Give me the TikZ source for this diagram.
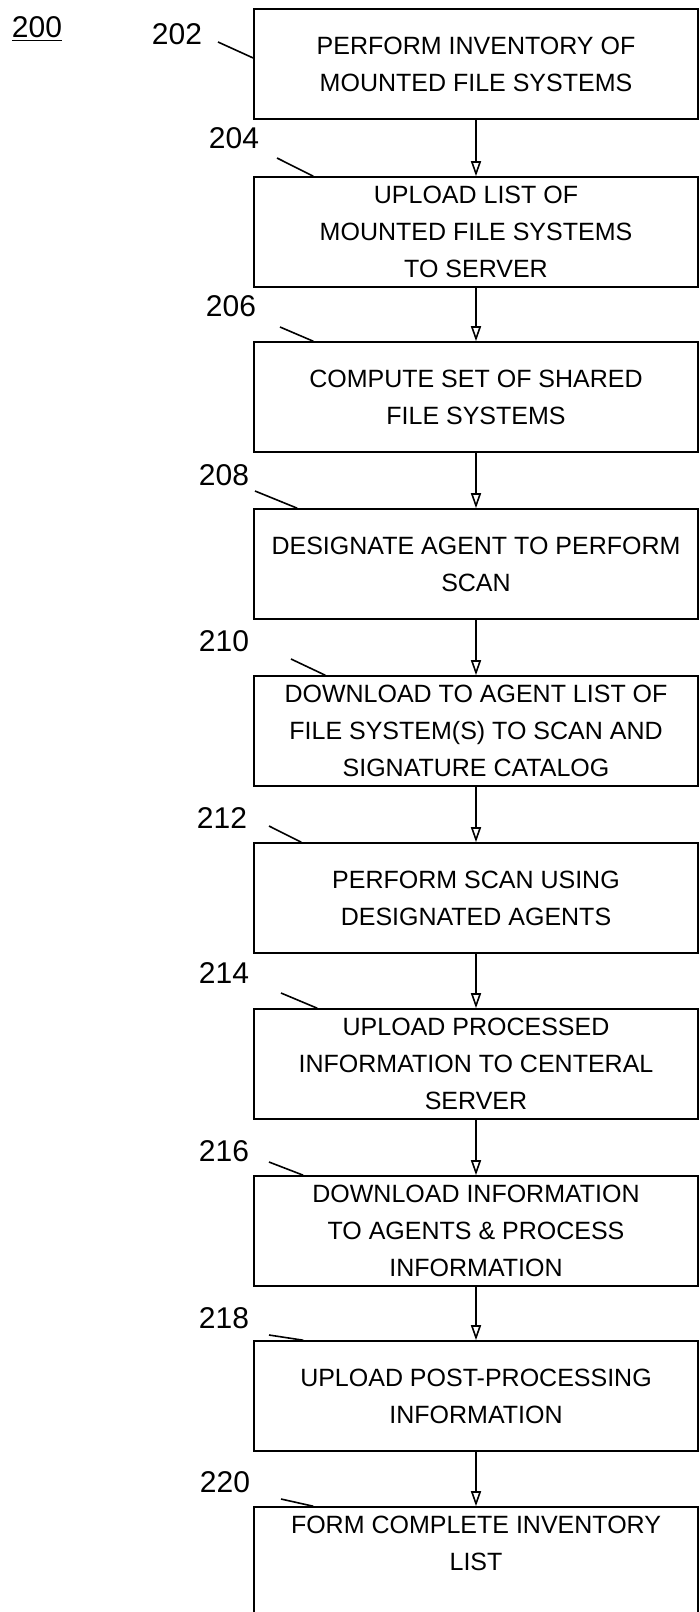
\documentclass[tikz,border=0pt]{standalone}
\usepackage{fontspec}
\setmainfont{Liberation Sans}
\usetikzlibrary{arrows.meta}

\begin{document}
\begin{tikzpicture}[x=0.5pt, y=-0.5pt,
    stepbox/.style={draw, line width=0.8pt, rectangle, minimum width=222pt, minimum height=55pt,
      align=center, font=\fontsize{12.5}{18.5}\selectfont},
    numeral/.style={font=\fontsize{15}{18}\selectfont},
    leader/.style={line width=0.8pt},
    arrow/.style={-{Triangle[open, length=7.5pt, width=5pt]}, line width=0.8pt}]

    \useasboundingbox (0,0) rectangle (700,1612);

    % Steps
    \node[stepbox] (b202) at (476,64) {PERFORM INVENTORY OF\\MOUNTED FILE SYSTEMS};
    \node[stepbox] (b204) at (476,232) {UPLOAD LIST OF\\MOUNTED FILE SYSTEMS\\TO SERVER};
    \node[stepbox] (b206) at (476,397) {COMPUTE SET OF SHARED\\FILE SYSTEMS};
    \node[stepbox] (b208) at (476,564) {DESIGNATE AGENT TO PERFORM\\SCAN};
    \node[stepbox] (b210) at (476,731) {DOWNLOAD TO AGENT LIST OF\\FILE SYSTEM(S) TO SCAN AND\\SIGNATURE CATALOG};
    \node[stepbox] (b212) at (476,898) {PERFORM SCAN USING\\DESIGNATED AGENTS};
    \node[stepbox] (b214) at (476,1064) {UPLOAD PROCESSED\\INFORMATION TO CENTERAL\\SERVER};
    \node[stepbox] (b216) at (476,1231) {DOWNLOAD INFORMATION\\TO AGENTS \& PROCESS\\INFORMATION};
    \node[stepbox] (b218) at (476,1396) {UPLOAD POST-PROCESSING\\INFORMATION};
    \node[stepbox] (b220) at (476,1562) {FORM COMPLETE INVENTORY\\LIST\\~};

    % Connections
    \draw[arrow] (b202) -- (b204);
    \draw[arrow] (b204) -- (b206);
    \draw[arrow] (b206) -- (b208);
    \draw[arrow] (b208) -- (b210);
    \draw[arrow] (b210) -- (b212);
    \draw[arrow] (b212) -- (b214);
    \draw[arrow] (b214) -- (b216);
    \draw[arrow] (b216) -- (b218);
    \draw[arrow] (b218) -- (b220);

    % Reference numerals
    \node[numeral] (n200) at (37,29) {\underline{200}};
    \node[numeral] (n202) at (177,34) {202};
    \node[numeral] (n204) at (234,138) {204};
    \node[numeral] (n206) at (231,306) {206};
    \node[numeral] (n208) at (224,475) {208};
    \node[numeral] (n210) at (224,641) {210};
    \node[numeral] (n212) at (222,818) {212};
    \node[numeral] (n214) at (224,973) {214};
    \node[numeral] (n216) at (224,1151) {216};
    \node[numeral] (n218) at (224,1318) {218};
    \node[numeral] (n220) at (225,1482) {220};

    % Leader lines
    \coordinate (l202) at (218,42);
    \coordinate (l204) at (277,158);
    \coordinate (l206) at (280,327);
    \coordinate (l208) at (255,491);
    \coordinate (l210) at (291,659);
    \coordinate (l212) at (269,826);
    \coordinate (l214) at (281,993);
    \coordinate (l216) at (269,1162);
    \coordinate (l218) at (269,1335);
    \coordinate (l220) at (281,1499);
    \draw[leader] (l202) -- ([yshift=3pt]b202.west);
    \draw[leader] (l204) -- ([xshift=30pt]b204.north west);
    \draw[leader] (l206) -- ([xshift=30pt]b206.north west);
    \draw[leader] (l208) -- ([xshift=22pt]b208.north west);
    \draw[leader] (l210) -- ([xshift=36pt]b210.north west);
    \draw[leader] (l212) -- ([xshift=24pt]b212.north west);
    \draw[leader] (l214) -- ([xshift=32pt]b214.north west);
    \draw[leader] (l216) -- ([xshift=25pt]b216.north west);
    \draw[leader] (l218) -- ([xshift=25pt]b218.north west);
    \draw[leader] (l220) -- ([xshift=30pt]b220.north west);
\end{tikzpicture}
\end{document}
